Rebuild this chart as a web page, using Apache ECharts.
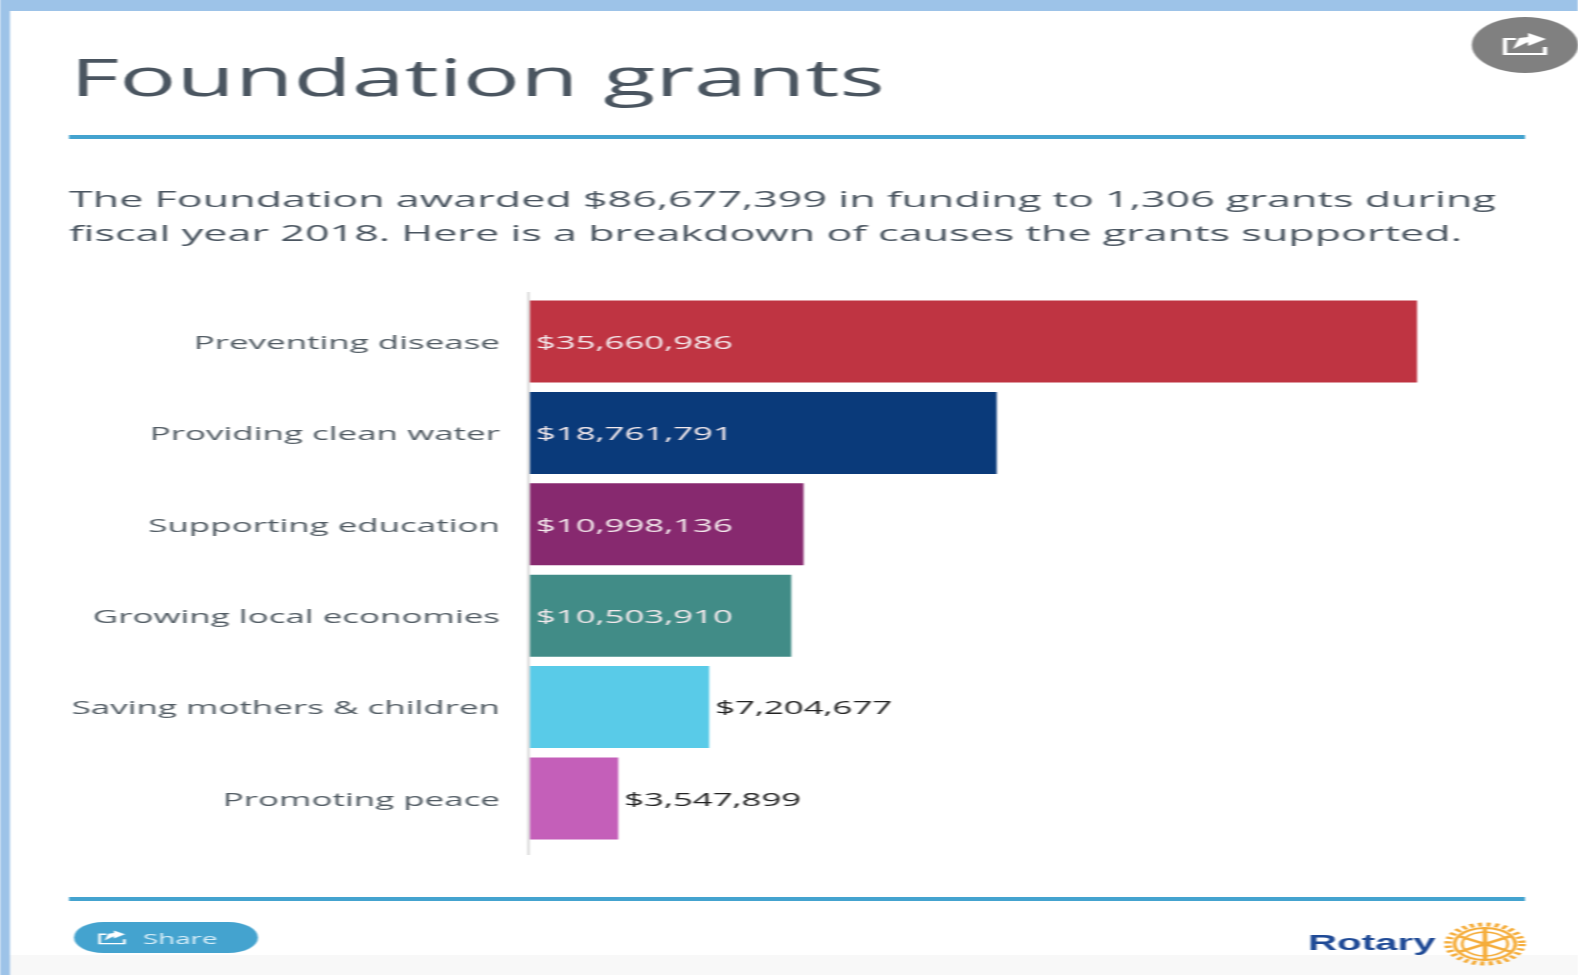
<!DOCTYPE html>
<html>
<head>
<meta charset="utf-8">
<style>
html,body{margin:0;padding:0;background:#fff;overflow:hidden}
#wrap{position:absolute;left:0;top:0;width:830.5px;height:975px;transform-origin:0 0;transform:scaleX(1.9);filter:blur(0.55px)}
</style>
<script src="https://cdn.jsdelivr.net/npm/echarts@6/dist/echarts.min.js"></script>
</head>
<body>
<div id="wrap"></div>
<script>
const titleText = 'Foundation grants';
const subtitleLines = [
  'The Foundation awarded $86,677,399 in funding to 1,306 grants during',
  'fiscal year 2018. Here is a breakdown of causes the grants supported.'
];
const categories = ['Preventing disease','Providing clean water','Supporting education','Growing local economies','Saving mothers & children','Promoting peace'];
const grants = [35660986,18761791,10998136,10503910,7204677,3547899];
const barColors = ['#bf3442','#0a3a7a','#87296f','#418c87','#59cbe8','#c45fb9'];
const labelInside = [true,true,true,true,false,false];

const S = 1.9;
const X = v => v / S;
const money = v => '$' + v.toLocaleString('en-US');
const FONT = '"Open Sans", sans-serif';

const chart = echarts.init(document.getElementById('wrap'), null, {renderer:'svg', width:830.5, height:975});

const rect = (x,y,w,h,fill,z) => ({type:'rect',z:z||0,silent:true,shape:{x:X(x),y,width:X(w),height:h},style:{fill}});
function shareIcon(cx, cy, k, color){
  return [
    {type:'polyline',z:5,silent:true,shape:{points:[[X(cx-9*k),cy-6*k],[X(cx-20*k),cy-6*k],[X(cx-20*k),cy+9*k],[X(cx+20*k),cy+9*k],[X(cx+20*k),cy+2*k]]},style:{stroke:color,fill:null,lineWidth:2.2*k}},
    {type:'polygon',z:5,silent:true,shape:{points:[[X(cx+3*k),cy-12*k],[X(cx+21*k),cy-6*k],[X(cx+3*k),cy+1*k],[X(cx+3*k),cy-3*k],[X(cx-12*k),cy+4*k],[X(cx-6*k),cy-7*k],[X(cx+3*k),cy-8*k]]},style:{fill:color}}
  ];
}
const gearCx = 1485, gearCy = 944, gearR = 21;
const spokes = [0,60,120,180,240,300].map(a => ({
  type:'line',z:5,silent:true,
  shape:{x1:X(gearCx),y1:gearCy,
         x2:X(gearCx)+gearR*0.72*Math.cos(a*Math.PI/180+0.52),
         y2:gearCy+gearR*0.72*Math.sin(a*Math.PI/180+0.52)},
  style:{stroke:'#f5ad3b',lineWidth:2.4}
}));

const graphics = [
  rect(0,0,1578,975,'#ffffff',0),
  rect(10,955,1568,20,'#f8f8f8',1),
  rect(0,0,1578,11,'#9dc3e8',2),
  rect(0,0,10,975,'#9dc3e8',2),
  rect(69,135,1456,4,'#44a3cf',2),
  rect(69,897,1456,4,'#44a3cf',2),
  rect(527.5,292,2,563,'#d2d2d2',2),
  {type:'text',z:3,silent:true,x:X(70),y:76,scaleX:0.965,style:{text:titleText,font:'400 52px '+FONT,fill:'#4a5560',textAlign:'left',textVerticalAlign:'middle'}},
  {type:'text',z:3,silent:true,x:X(69),y:198,style:{text:subtitleLines[0],font:'400 22.7px '+FONT,fill:'#4a5560',textAlign:'left',textVerticalAlign:'middle'}},
  {type:'text',z:3,silent:true,x:X(69),y:232,style:{text:subtitleLines[1],font:'400 22.7px '+FONT,fill:'#4a5560',textAlign:'left',textVerticalAlign:'middle'}},
  {type:'circle',z:4,silent:true,shape:{cx:X(1525),cy:45,r:28},style:{fill:'#808080'}},
  ...shareIcon(1525,45,1,'#ffffff'),
  {type:'rect',z:4,silent:true,shape:{x:X(74),y:922,width:X(184),height:31,r:15.5},style:{fill:'#44a3cf'}},
  ...shareIcon(112,938,0.62,'#ffffff'),
  {type:'text',z:5,silent:true,x:X(143),y:938,style:{text:'Share',font:'400 14.6px '+FONT,fill:'#d8eef8',textAlign:'left',textVerticalAlign:'middle'}},
  {type:'text',z:5,silent:true,x:X(1308),y:943,style:{text:'Rotary',font:'700 21.2px "Liberation Sans", sans-serif',fill:'#1f4a96',textAlign:'left',textVerticalAlign:'middle'}},
  {type:'circle',z:5,silent:true,shape:{cx:X(gearCx),cy:gearCy,r:gearR-1.5},style:{fill:null,stroke:'#f5ad3b',lineWidth:4,lineDash:[2.2,2.2]}},
  {type:'circle',z:5,silent:true,shape:{cx:X(gearCx),cy:gearCy,r:gearR-5},style:{fill:null,stroke:'#f5ad3b',lineWidth:2}},
  {type:'circle',z:5,silent:true,shape:{cx:X(gearCx),cy:gearCy,r:gearR-9},style:{fill:null,stroke:'#f5ad3b',lineWidth:1.6}},
  ...spokes,
  {type:'circle',z:6,silent:true,shape:{cx:X(gearCx),cy:gearCy,r:2.5},style:{fill:'#f5ad3b'}}
];

chart.setOption({
  animation:false,
  backgroundColor:'transparent',
  graphic:{elements:graphics},
  grid:{left:X(530),top:295.8,width:X(995),height:548.4,containLabel:false,outerBoundsMode:'none'},
  xAxis:{type:'value',min:0,max:40000000,show:false},
  yAxis:{
    type:'category',inverse:true,data:categories,
    axisLine:{show:false},axisTick:{show:false},
    axisLabel:{margin:X(30),color:'#525c64',fontFamily:FONT,fontSize:18.4,align:'right'}
  },
  series:[{
    type:'bar',z:3,barWidth:82,
    data:grants.map((v,i)=>({
      value:v,
      itemStyle:{color:barColors[i]},
      label:{
        show:true,
        position:labelInside[i]?'insideLeft':'right',
        distance:X(labelInside[i]?6:6),
        color:labelInside[i]?'#f3e9ec':'#222222',
        fontFamily:FONT,fontSize:18.3,
        formatter:()=>money(v)
      }
    }))
  }]
});
</script>
</body>
</html>
